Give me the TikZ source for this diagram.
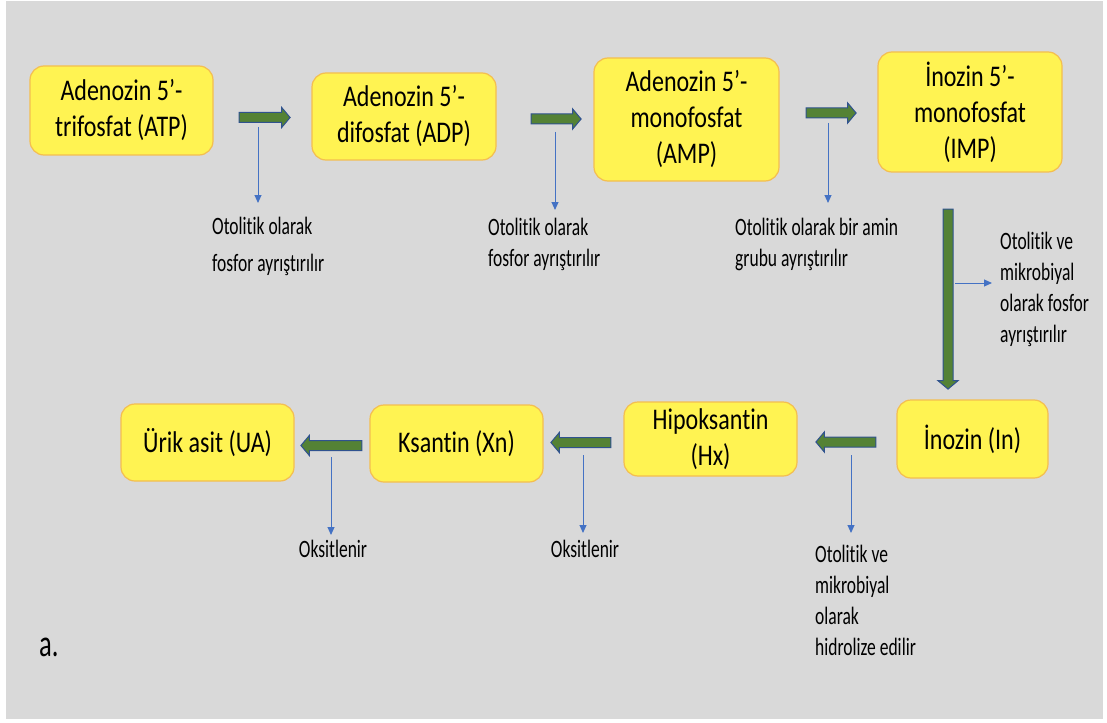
\documentclass[tikz,border=0pt]{standalone}
\usepackage{fontspec}
\setmainfont{Carlito}
\newfontfamily\boxfont[FakeStretch=0.8,Ligatures=NoCommon]{Carlito}
\newfontfamily\lblfont[FakeStretch=0.7,Ligatures=NoCommon]{Carlito}
\usetikzlibrary{shapes.arrows,arrows.meta}
\definecolor{bg}{RGB}{217,217,217}
\definecolor{boxfill}{RGB}{255,243,82}
\definecolor{boxline}{RGB}{244,190,80}
\definecolor{garrow}{RGB}{84,130,53}
\definecolor{garrowline}{RGB}{47,82,143}
\definecolor{thinblue}{RGB}{68,114,196}
\tikzset{
  compbox/.style={draw=boxline, fill=boxfill, line width=1.2pt, rounded corners=14pt,
    align=center, inner sep=0pt, font=\boxfont\fontsize{30}{36}\selectfont},
  greenarr/.style={single arrow, draw=garrowline, fill=garrow, line width=1pt,
    inner xsep=0pt, inner ysep=4.5pt, single arrow head extend=5pt,
    single arrow tip angle=100, single arrow head indent=0pt},
  thinarr/.style={draw=thinblue, line width=1pt, -{Triangle[length=8pt,width=7pt]}},
  lbl/.style={align=left, inner sep=0pt, anchor=north west,
    font=\lblfont\fontsize{25}{31}\selectfont}
}
\begin{document}
\begin{tikzpicture}[x=1pt,y=-1pt]
\useasboundingbox (0,0) rectangle (1107,722);
\fill[white] (0,0) rectangle (1107,722);
\fill[bg] (6,1) rectangle (1103,719);

% boxes
\node[compbox, minimum width=183pt, minimum height=89pt] (atp) at (121.5,110.5) {Adenozin 5’-\\trifosfat (ATP)};
\node[compbox, minimum width=184pt, minimum height=87pt] (adp) at (404,116.5) {Adenozin 5’-\\difosfat (ADP)};
\node[compbox, minimum width=185pt, minimum height=123pt] (amp) at (686.5,119.5) {Adenozin 5’-\\monofosfat\\(AMP)};
\node[compbox, minimum width=184pt, minimum height=120pt] (imp) at (970,112) {İnozin 5’-\\monofosfat\\(IMP)};
\node[compbox, minimum width=151pt, minimum height=78pt] (ino) at (972.5,439) {İnozin (In)};
\node[compbox, minimum width=173pt, minimum height=74pt] (hx) at (710.5,439) {Hipoksantin\\(Hx)};
\node[compbox, minimum width=173pt, minimum height=77pt] (xn) at (456.5,443.5) {Ksantin (Xn)};
\node[compbox, minimum width=173pt, minimum height=77pt] (ua) at (207.5,442.5) {Ürik asit (UA)};

% green block arrows
\node[greenarr, minimum height=51pt] (g1) at (262.5,117.5) {};
\node[greenarr, minimum height=50pt] (g2) at (554,119) {};
\node[greenarr, minimum height=50pt] (g3) at (829,113) {};
\node[greenarr, minimum height=180pt, rotate=-90] (g4) at (948,297) {};
\node[greenarr, minimum height=60pt, rotate=180] (g5) at (848,442) {};
\node[greenarr, minimum height=60pt, rotate=180] (g6) at (583,442.5) {};
\node[greenarr, minimum height=61pt, rotate=180] (g7) at (333.5,445.5) {};

% labels
\node[lbl] (l1) at (212,217) {Otolitik olarak\\[6pt]fosfor ayrıştırılır};
\node[lbl] (l2) at (488,218) {Otolitik olarak\\fosfor ayrıştırılır};
\node[lbl] (l3) at (735,218) {Otolitik olarak bir amin\\grubu ayrıştırılır};
\node[lbl] (l4) at (1000,232) {Otolitik ve\\mikrobiyal\\olarak fosfor\\ayrıştırılır};
\node[lbl] (l5) at (815,545) {Otolitik ve\\mikrobiyal\\olarak\\hidrolize edilir};
\node[lbl, anchor=north] (l6) at (333,540) {Oksitlenir};
\node[lbl, anchor=north] (l7) at (585,540) {Oksitlenir};
\node[inner sep=0pt, anchor=north west, font=\lblfont\fontsize{38}{44}\selectfont] (a) at (39,638) {a.};

% thin blue arrows
\coordinate (b1s) at (258,127); \coordinate (b1e) at (258,203);
\coordinate (b2s) at (555,132); \coordinate (b2e) at (555,210);
\coordinate (b3s) at (828,123); \coordinate (b3e) at (828,203);
\coordinate (b4s) at (955,283); \coordinate (b4e) at (992,283);
\coordinate (b5s) at (851,455); \coordinate (b5e) at (851,533);
\coordinate (b6s) at (583,455); \coordinate (b6e) at (583,533);
\coordinate (b7s) at (331,457); \coordinate (b7e) at (331,535);
\draw[thinarr] (b1s) -- (b1e);
\draw[thinarr] (b2s) -- (b2e);
\draw[thinarr] (b3s) -- (b3e);
\draw[thinarr] (b4s) -- (b4e);
\draw[thinarr] (b5s) -- (b5e);
\draw[thinarr] (b6s) -- (b6e);
\draw[thinarr] (b7s) -- (b7e);
\end{tikzpicture}
\end{document}
